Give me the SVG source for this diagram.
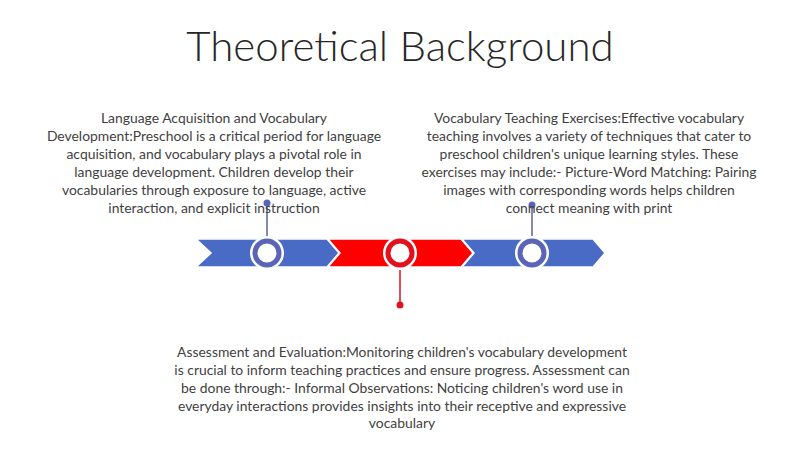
<svg xmlns="http://www.w3.org/2000/svg" width="800" height="449" viewBox="0 0 800 449">
<style>
.t{font-family:Lato,"Liberation Sans",sans-serif;font-size:13.9px;fill:#3f3f3f;text-anchor:middle}
.title{font-family:Lato,"Liberation Sans",sans-serif;font-weight:300;font-size:42px;fill:#262626;text-anchor:middle}
.blue{fill:#4a6bc5;stroke:#fff;stroke-width:1.5}
.red{fill:#ff0000;stroke:#fff;stroke-width:1.5}
.rb{fill:#fff;stroke:#5a64b8;stroke-width:5}
.rr{fill:#fff;stroke:#e3101f;stroke-width:5}
</style>
<rect width="800" height="449" fill="#fff"/>
<text class="title" x="400" y="61">Theoretical Background</text>
<g id="connectors">
<line x1="267" y1="203" x2="267" y2="240" stroke="#5b6590" stroke-width="1.5"/>
<circle cx="267" cy="203" r="3.5" fill="#5a64b8"/>
<line x1="532" y1="205" x2="532" y2="240" stroke="#5b6590" stroke-width="1.5"/>
<circle cx="532" cy="205" r="3.5" fill="#5a64b8"/>
<line x1="400" y1="266" x2="400" y2="305" stroke="#e3101f" stroke-width="1.5"/>
<circle cx="400" cy="305" r="3.5" fill="#e3101f"/>
</g>
<g id="timeline">
<polygon class="blue" points="196,239 327,239 339,253 327,267 196,267 211,253"/>
<polygon class="red" points="328,239 461,239 473,253 461,267 328,267 340,253"/>
<polygon class="blue" points="462,239 593,239 605,253 593,267 462,267 474,253"/>
</g>
<g id="node1">
<circle cx="267" cy="253" r="17" fill="#fff"/>
<circle class="rb" cx="267" cy="253" r="12"/>
<text class="t" x="214" y="123">Language Acquisition and Vocabulary</text>
<text class="t" x="214" y="141">Development:Preschool is a critical period for language</text>
<text class="t" x="214" y="159">acquisition, and vocabulary plays a pivotal role in</text>
<text class="t" x="214" y="177">language development. Children develop their</text>
<text class="t" x="214" y="195">vocabularies through exposure to language, active</text>
<text class="t" x="214" y="213">interaction, and explicit instruction</text>
</g>
<g id="node2">
<circle cx="400" cy="253" r="17" fill="#fff"/>
<circle class="rr" cx="400" cy="253" r="12"/>
<text class="t" x="402" y="357">Assessment and Evaluation:Monitoring children's vocabulary development</text>
<text class="t" x="402" y="375">is crucial to inform teaching practices and ensure progress. Assessment can</text>
<text class="t" x="402" y="393">be done through:- Informal Observations: Noticing children's word use in</text>
<text class="t" x="402" y="411">everyday interactions provides insights into their receptive and expressive</text>
<text class="t" x="402" y="428">vocabulary</text>
</g>
<g id="node3">
<circle cx="532" cy="253" r="17" fill="#fff"/>
<circle class="rb" cx="532" cy="253" r="12"/>
<text class="t" x="589" y="123">Vocabulary Teaching Exercises:Effective vocabulary</text>
<text class="t" x="589" y="141">teaching involves a variety of techniques that cater to</text>
<text class="t" x="589" y="159">preschool children's unique learning styles. These</text>
<text class="t" x="589" y="177">exercises may include:- Picture-Word Matching: Pairing</text>
<text class="t" x="589" y="195">images with corresponding words helps children</text>
<text class="t" x="589" y="213">connect meaning with print</text>
</g>
</svg>
